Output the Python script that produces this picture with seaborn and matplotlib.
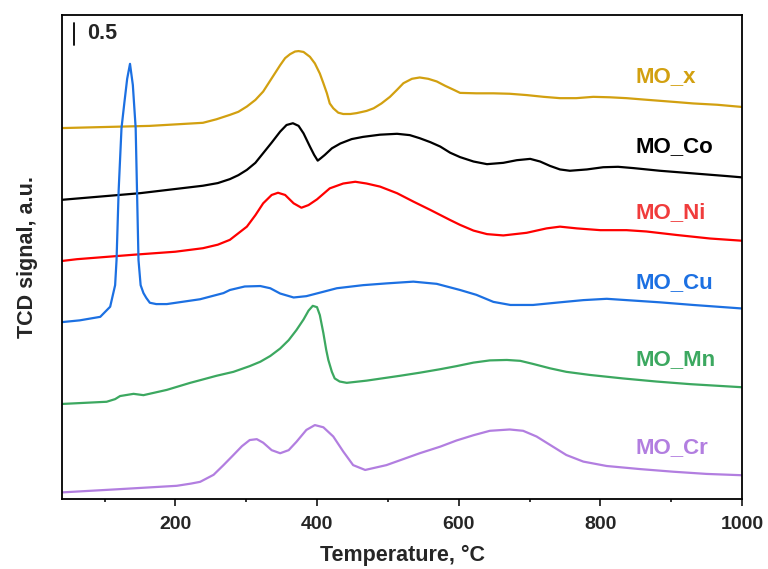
import numpy as np
import pandas as pd
import matplotlib
matplotlib.use("Agg")
import matplotlib.pyplot as plt
import seaborn as sns

# H2-TPR profiles, stacked with vertical offsets (signal in a.u.)
samples = ["MO_x", "MO_Co", "MO_Ni", "MO_Cu", "MO_Mn", "MO_Cr"]
line_colors = ["#D2A010", "#000000", "#FF0000", "#1C70E2", "#3CA860", "#B27EE0"]
text_colors = ["#D2A010", "#000000", "#F03C3C", "#1C70E2", "#3CA860", "#B27EE0"]

mox_t = [40, 164, 239, 258, 277, 289, 301, 313, 324, 336, 348, 355, 362, 369, 374, 381,
         390, 397, 404, 409, 414, 418, 423, 430, 437, 447, 456, 470, 480, 491, 503, 513,
         522, 534, 545, 557, 569, 581, 593, 602, 625, 649, 672, 696, 720, 743, 766, 790,
         813, 837, 860, 884, 908, 931, 965, 1000]
mox_s = [8.43, 8.48, 8.55, 8.63, 8.73, 8.80, 8.92, 9.07, 9.26, 9.56, 9.86, 10.02, 10.11, 10.17, 10.18, 10.16,
         10.05, 9.90, 9.67, 9.45, 9.22, 8.99, 8.88, 8.78, 8.75, 8.75, 8.77, 8.82, 8.88, 8.99, 9.14, 9.30,
         9.45, 9.55, 9.58, 9.55, 9.49, 9.39, 9.30, 9.23, 9.22, 9.22, 9.21, 9.18, 9.14, 9.11, 9.11, 9.14,
         9.13, 9.11, 9.08, 9.05, 9.02, 8.99, 8.96, 8.91]

moco_t = [40, 150, 239, 260, 277, 289, 301, 313, 324, 336, 348, 357, 366, 374, 381, 390,
          396, 401, 405, 411, 421, 433, 449, 465, 489, 513, 531, 545, 560, 574, 588, 602,
          621, 640, 663, 682, 701, 715, 729, 743, 757, 781, 804, 825, 847, 884, 931, 978, 1000]
moco_s = [6.80, 6.95, 7.12, 7.18, 7.27, 7.36, 7.48, 7.64, 7.86, 8.10, 8.35, 8.50, 8.54, 8.48, 8.31, 8.01,
          7.82, 7.69, 7.74, 7.82, 7.97, 8.08, 8.18, 8.23, 8.28, 8.30, 8.27, 8.20, 8.11, 8.01, 7.87, 7.77,
          7.67, 7.61, 7.64, 7.70, 7.73, 7.67, 7.57, 7.49, 7.46, 7.49, 7.54, 7.55, 7.52, 7.46, 7.40, 7.34, 7.31]

moni_t = [40, 61, 140, 200, 239, 260, 277, 289, 301, 313, 324, 336, 345, 355, 367, 378,
          388, 400, 418, 437, 454, 470, 489, 513, 536, 560, 588, 602, 621, 640, 663, 696,
          724, 743, 767, 800, 837, 865, 908, 955, 1000]
moni_s = [5.41, 5.45, 5.55, 5.62, 5.70, 5.78, 5.89, 6.04, 6.19, 6.45, 6.72, 6.91, 6.96, 6.91, 6.72, 6.62,
          6.68, 6.81, 7.06, 7.17, 7.21, 7.17, 7.10, 6.95, 6.76, 6.57, 6.34, 6.23, 6.10, 6.02, 5.99, 6.05,
          6.15, 6.19, 6.15, 6.11, 6.11, 6.08, 6.00, 5.92, 5.87]

mocu_t = [40, 65, 94, 108, 115, 117, 120, 124, 128, 132, 136, 140, 144, 148, 151, 155,
          159, 164, 173, 188, 235, 268, 277, 298, 320, 334, 348, 367, 385, 409, 428, 465,
          498, 536, 569, 602, 625, 649, 673, 705, 743, 776, 809, 837, 884, 931, 1000]
mocu_s = [4.02, 4.06, 4.14, 4.37, 4.86, 5.43, 7.02, 8.43, 9.00, 9.55, 9.89, 9.41, 8.43, 5.43, 4.86, 4.68,
          4.57, 4.46, 4.43, 4.43, 4.54, 4.68, 4.75, 4.83, 4.84, 4.79, 4.67, 4.58, 4.61, 4.71, 4.79, 4.86,
          4.90, 4.94, 4.89, 4.75, 4.64, 4.48, 4.41, 4.41, 4.47, 4.52, 4.55, 4.52, 4.47, 4.41, 4.33]

momn_t = [40, 103, 115, 122, 141, 155, 188, 221, 235, 258, 282, 305, 320, 334, 348, 360,
          371, 381, 388, 394, 400, 404, 409, 413, 416, 421, 425, 432, 442, 470, 517, 545,
          574, 597, 621, 644, 668, 687, 705, 729, 752, 785, 832, 879, 927, 1000]
momn_s = [2.16, 2.21, 2.27, 2.34, 2.39, 2.36, 2.48, 2.64, 2.70, 2.80, 2.89, 3.02, 3.12, 3.25, 3.42, 3.61,
          3.84, 4.08, 4.28, 4.39, 4.36, 4.18, 3.77, 3.39, 3.16, 2.89, 2.74, 2.67, 2.64, 2.69, 2.80, 2.87,
          2.95, 3.02, 3.10, 3.15, 3.16, 3.14, 3.07, 2.97, 2.89, 2.82, 2.74, 2.67, 2.61, 2.54]

mocr_t = [40, 117, 202, 222, 235, 254, 268, 282, 294, 305, 315, 324, 336, 348, 360, 371,
          385, 397, 409, 423, 437, 451, 468, 498, 545, 574, 597, 621, 644, 672, 691, 710,
          729, 752, 776, 809, 856, 903, 950, 1000]
mocr_s = [0.15, 0.22, 0.30, 0.35, 0.39, 0.55, 0.77, 1.00, 1.20, 1.34, 1.36, 1.28, 1.11, 1.04, 1.11, 1.30,
          1.57, 1.68, 1.63, 1.42, 1.08, 0.77, 0.66, 0.77, 1.04, 1.19, 1.33, 1.45, 1.55, 1.58, 1.55, 1.42,
          1.23, 1.00, 0.85, 0.75, 0.68, 0.62, 0.57, 0.54]

# label anchor (temperature, signal) for each curve name
label_t = 849
label_s = [9.59, 8.02, 6.50, 4.91, 3.18, 1.16]

temps = [mox_t, moco_t, moni_t, mocu_t, momn_t, mocr_t]
signals = [mox_s, moco_s, moni_s, mocu_s, momn_s, mocr_s]

frames = []
for name, t, s in zip(samples, temps, signals):
    frames.append(pd.DataFrame({"sample": name, "temperature": t, "signal": s}))
df = pd.concat(frames, ignore_index=True)

sns.set_theme(style="ticks")
plt.rcParams["font.family"] = ["Liberation Sans", "DejaVu Sans"]
plt.rcParams["font.weight"] = "bold"

fig = plt.figure(figsize=(7.68, 5.69), dpi=100)
ax = fig.add_axes([62 / 768, 70 / 569, 680 / 768, 484 / 569])

sns.lineplot(data=df, x="temperature", y="signal", hue="sample", hue_order=samples,
             palette=line_colors, estimator=None, sort=False, linewidth=1.6,
             legend=False, ax=ax)
for ln in ax.get_lines():
    ln.set_solid_joinstyle("round")

ax.set_xlim(40, 1000)
ax.set_ylim(0, 11)
ax.set_yticks([])
ax.set_xticks([200, 400, 600, 800, 1000])
ax.set_xticks(np.arange(100, 1000, 100), minor=True)
ax.tick_params(axis="x", which="major", direction="out", length=5, width=1.3,
               labelsize=14, pad=7, top=False)
ax.tick_params(axis="x", which="minor", direction="out", length=2.5, width=1.3, top=False)
for lab in ax.get_xticklabels():
    lab.set_fontweight("bold")
for sp in ax.spines.values():
    sp.set_visible(True)
    sp.set_linewidth(1.3)
    sp.set_color("black")

ax.set_xlabel("Temperature, °C", fontsize=15.5, fontweight="bold", labelpad=9)
ax.set_ylabel("TCD signal, a.u.", fontsize=15.5, fontweight="bold", labelpad=17)

for name, col, ys in zip(samples, text_colors, label_s):
    ax.text(label_t, ys, name, color=col, fontsize=16, fontweight="bold",
            ha="left", va="center")

# 0.5 a.u. scale bar
ax.plot([57.4, 57.4], [10.32, 10.82], color="black", linewidth=1.3)
ax.text(76, 10.59, "0.5", fontsize=15.5, fontweight="bold", ha="left", va="center")

fig.savefig("out.png", dpi=100)
